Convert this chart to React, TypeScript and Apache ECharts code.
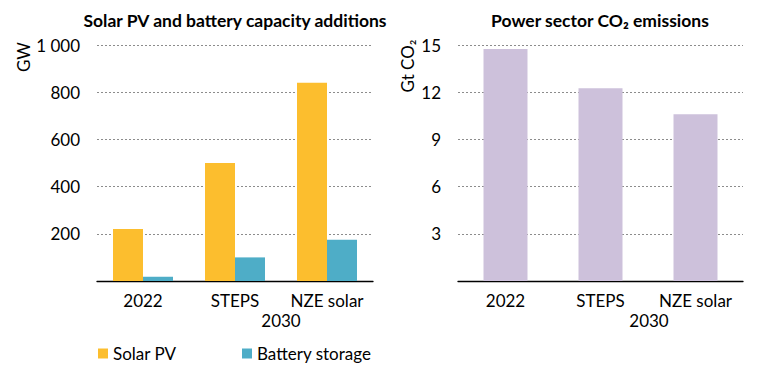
import React, { useEffect, useRef } from "react";
import * as echarts from "echarts";

const categories = ["2022", "STEPS", "NZE solar"];
const solarPV = [220, 500, 840];
const batteryStorage = [18, 100, 175];
const co2Emissions = [14.75, 12.25, 10.6];
const leftTicks = { min: 0, max: 1000, interval: 200 };
const rightTicks = { min: 0, max: 15, interval: 3 };

const FONT = "Lato, 'Open Sans', sans-serif";

export default function App() {
  const ref = useRef<HTMLDivElement>(null);
  useEffect(() => {
    if (!ref.current) return;
    const chart = echarts.init(ref.current, null, { renderer: "svg" });
    const gridTop = 45;
    const gridH = 236;
    const splitLine = { show: true, lineStyle: { color: "#8c8c8c", type: [2, 2] as any, width: 1 } };
    const axisLabelY = (fmt: (v: number) => string) => ({
      color: "#000",
      fontSize: 17,
      fontFamily: FONT,
      margin: 17,
      formatter: (v: number) => (v === 0 ? "" : fmt(v)),
    });
    const xAxisCommon = {
      type: "category" as const,
      data: categories,
      axisTick: { show: false },
      axisLine: { show: true, lineStyle: { color: "#000", width: 1.3 } },
      axisLabel: { color: "#000", fontSize: 17, fontFamily: FONT, margin: 11, interval: 0 },
    };
    const titleStyle = {
      fontSize: 17.5,
      fontWeight: "bold",
      fontFamily: FONT,
      fill: "#000",
      align: "center",
      verticalAlign: "middle",
    };
    chart.setOption({
      animation: false,
      textStyle: { fontFamily: FONT },
      grid: [
        { left: 97, top: gridTop, width: 276, height: gridH },
        { left: 458, top: gridTop, width: 285, height: gridH },
      ],
      xAxis: [
        { ...xAxisCommon, gridIndex: 0 },
        { ...xAxisCommon, gridIndex: 1 },
      ],
      yAxis: [
        {
          type: "value",
          gridIndex: 0,
          ...leftTicks,
          axisLine: { show: false },
          axisTick: { show: false },
          splitLine,
          axisLabel: axisLabelY((v) => (v >= 1000 ? `${Math.floor(v / 1000)} ${String(v % 1000).padStart(3, "0")}` : String(v))),
        },
        {
          type: "value",
          gridIndex: 1,
          ...rightTicks,
          axisLine: { show: false },
          axisTick: { show: false },
          splitLine,
          axisLabel: axisLabelY((v) => String(v)),
        },
      ],
      legend: [
        {
          data: ["Solar PV"],
          left: 93,
          top: 340,
          itemWidth: 10,
          itemHeight: 10,
          icon: "rect",
          textStyle: { color: "#000", fontSize: 17, fontFamily: FONT },
        },
        {
          data: ["Battery storage"],
          left: 237,
          top: 340,
          itemWidth: 10,
          itemHeight: 10,
          icon: "rect",
          textStyle: { color: "#000", fontSize: 17, fontFamily: FONT },
        },
      ],
      series: [
        {
          name: "Solar PV",
          type: "bar",
          xAxisIndex: 0,
          yAxisIndex: 0,
          data: solarPV,
          barWidth: 30,
          barGap: "0%",
          itemStyle: { color: "#FCBE2E" },
        },
        {
          name: "Battery storage",
          type: "bar",
          xAxisIndex: 0,
          yAxisIndex: 0,
          data: batteryStorage,
          barWidth: 30,
          barGap: "0%",
          itemStyle: { color: "#4EADC7" },
        },
        {
          name: "CO2",
          type: "bar",
          xAxisIndex: 1,
          yAxisIndex: 1,
          data: co2Emissions,
          barWidth: 44,
          itemStyle: { color: "#CDC1DB" },
        },
      ],
      graphic: [
        {
          type: "text",
          x: 235,
          y: 20,
          style: { text: "Solar PV and battery capacity additions", ...titleStyle },
        },
        {
          type: "text",
          x: 600,
          y: 20,
          style: { text: "Power sector CO₂ emissions", ...titleStyle },
        },
        {
          type: "text",
          x: 23,
          y: 57,
          rotation: Math.PI / 2,
          style: { text: "GW", fontSize: 17, fontFamily: FONT, fill: "#000", align: "center", verticalAlign: "middle" },
        },
        {
          type: "text",
          x: 407,
          y: 66,
          rotation: Math.PI / 2,
          style: { text: "Gt CO₂", fontSize: 17, fontFamily: FONT, fill: "#000", align: "center", verticalAlign: "middle" },
        },
        {
          type: "text",
          x: 281,
          y: 320,
          style: { text: "2030", fontSize: 17, fontFamily: FONT, fill: "#000", align: "center", verticalAlign: "middle" },
        },
        {
          type: "text",
          x: 649,
          y: 320,
          style: { text: "2030", fontSize: 17, fontFamily: FONT, fill: "#000", align: "center", verticalAlign: "middle" },
        },
      ],
    });
    return () => chart.dispose();
  }, []);
  return <div ref={ref} style={{ width: 764, height: 368, position: "absolute", left: 0, top: 0 }} />;
}
